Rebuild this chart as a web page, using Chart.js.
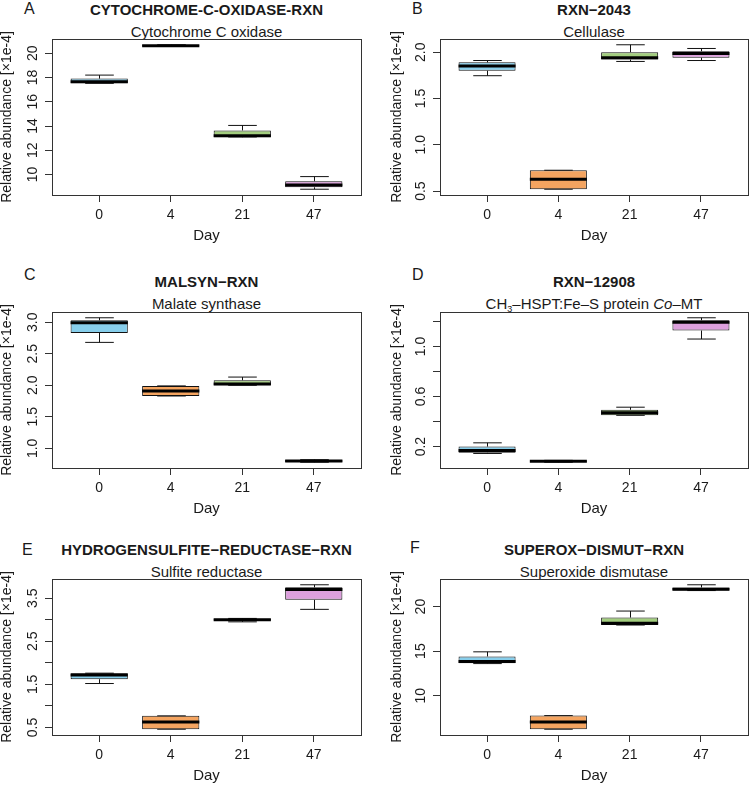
<!DOCTYPE html>
<html>
<head>
<meta charset="utf-8">
<script src="https://cdn.jsdelivr.net/npm/chart.js@4.4.1/dist/chart.umd.min.js"></script>
<style>
body { margin: 0; background: #fff; font-family: 'Liberation Sans', Arial, sans-serif; color: #1a1a1a; }
#wrap { position: relative; width: 750px; height: 785px; overflow: hidden; }
.letter { position: absolute; font-size: 16px; line-height: 18px; }
.title { position: absolute; font-weight: bold; font-size: 15px; line-height: 18px; text-align: center; white-space: nowrap; }
.sub { position: absolute; font-size: 15px; line-height: 18px; text-align: center; white-space: nowrap; }
.sub sub { font-size: 9px; vertical-align: -3px; line-height: 0; }
canvas { position: absolute; }
</style>
</head>
<body>
<div id="wrap"></div>
<script>
const days = ['0', '4', '21', '47'];
const boxColors = ['#87ceeb', '#f4a460', '#a2cd7e', '#dda0dd'];
const yTitle = 'Relative abundance [×1e-4]';

// A - Cytochrome C oxidase
const aMin = [17.52, 20.58, 13.10, 8.79];
const aQ1 = [17.52, 20.60, 13.08, 8.95];
const aMed = [17.66, 20.63, 13.20, 9.13];
const aQ3 = [17.91, 20.66, 13.64, 9.45];
const aMax = [18.20, 20.70, 14.05, 9.83];
const aTicks = [10, 12, 14, 16, 18, 20];
const aLabels = ['10', '12', '14', '16', '18', '20'];

// B - Cellulase
const bMin = [1.746, 0.52, 1.90, 1.91];
const bQ1 = [1.80, 0.52, 1.92, 1.94];
const bMed = [1.85, 0.628, 1.94, 1.985];
const bQ3 = [1.89, 0.725, 2.00, 2.01];
const bMax = [1.91, 0.725, 2.08, 2.04];
const bTicks = [0.5, 1.0, 1.5, 2.0];
const bLabels = ['0.5', '1.0', '1.5', '2.0'];

// C - Malate synthase
const cMin = [2.68, 1.83, 2.00, 0.78];
const cQ1 = [2.83, 1.83, 2.00, 0.785];
const cMed = [2.99, 1.91, 2.02, 0.80];
const cQ3 = [3.03, 1.99, 2.08, 0.815];
const cMax = [3.07, 1.99, 2.13, 0.82];
const cTicks = [1.0, 1.5, 2.0, 2.5, 3.0];
const cLabels = ['1.0', '1.5', '2.0', '2.5', '3.0'];

// D - CH3-HSPT:Fe-S protein Co-MT
const dMin = [0.145, 0.075, 0.45, 1.06];
const dQ1 = [0.15, 0.078, 0.45, 1.128];
const dMed = [0.168, 0.082, 0.47, 1.195];
const dQ3 = [0.20, 0.086, 0.494, 1.21];
const dMax = [0.23, 0.09, 0.515, 1.23];
const dTicks = [0.2, 0.4, 0.6, 0.8, 1.0, 1.2];
const dLabels = ['0.2', '', '0.6', '', '1.0', ''];

// E - Sulfite reductase
const eMin = [1.52, 0.46, 2.95, 3.24];
const eQ1 = [1.62, 0.46, 2.98, 3.46];
const eMed = [1.72, 0.63, 3.00, 3.70];
const eQ3 = [1.76, 0.77, 3.02, 3.75];
const eMax = [1.76, 0.77, 3.03, 3.81];
const eTicks = [0.5, 1.0, 1.5, 2.0, 2.5, 3.0, 3.5];
const eLabels = ['0.5', '', '1.5', '', '2.5', '', '3.5'];

// F - Superoxide dismutase
const fMin = [13.60, 6.23, 17.93, 21.80];
const fQ1 = [13.65, 6.23, 17.93, 21.82];
const fMed = [13.83, 7.05, 18.13, 21.95];
const fQ3 = [14.40, 7.76, 18.77, 22.15];
const fMax = [14.92, 7.76, 19.50, 22.45];
const fTicks = [10, 15, 20];
const fLabels = ['10', '15', '20'];

Chart.defaults.font.family = "'Liberation Sans', Arial, sans-serif";
Chart.defaults.color = '#1a1a1a';

const panels = [
  { letter: 'A', title: 'CYTOCHROME-C-OXIDASE-RXN', sub: 'Cytochrome C oxidase',
    min: aMin, q1: aQ1, med: aMed, q3: aQ3, max: aMax, ticks: aTicks, labels: aLabels,
    canvas: [0, 0, 375, 258], plot: [52, 39, 361, 195], padLeft: 0, letterPos: [24, 0], titleY: 1 },
  { letter: 'B', title: 'RXN−2043', sub: 'Cellulase',
    min: bMin, q1: bQ1, med: bMed, q3: bQ3, max: bMax, ticks: bTicks, labels: bLabels,
    canvas: [375, 0, 375, 258], plot: [440, 39, 748, 195], padLeft: 15, letterPos: [412, 0], titleY: 1 },
  { letter: 'C', title: 'MALSYN−RXN', sub: 'Malate synthase',
    min: cMin, q1: cQ1, med: cMed, q3: cQ3, max: cMax, ticks: cTicks, labels: cLabels,
    canvas: [0, 258, 375, 262], plot: [52, 312, 361, 468], padLeft: 0, letterPos: [24, 266], titleY: 273 },
  { letter: 'D', title: 'RXN−12908', sub: 'CH<sub>3</sub>–HSPT:Fe–S protein <i>Co</i>–MT',
    min: dMin, q1: dQ1, med: dMed, q3: dQ3, max: dMax, ticks: dTicks, labels: dLabels,
    canvas: [375, 258, 375, 262], plot: [440, 312, 748, 468], padLeft: 15, letterPos: [412, 266], titleY: 273 },
  { letter: 'E', title: 'HYDROGENSULFITE−REDUCTASE−RXN', sub: 'Sulfite reductase',
    min: eMin, q1: eQ1, med: eMed, q3: eQ3, max: eMax, ticks: eTicks, labels: eLabels,
    canvas: [0, 520, 375, 265], plot: [52, 579, 361, 735], padLeft: 0, letterPos: [22, 541], titleY: 541 },
  { letter: 'F', title: 'SUPEROX−DISMUT−RXN', sub: 'Superoxide dismutase',
    min: fMin, q1: fQ1, med: fMed, q3: fQ3, max: fMax, ticks: fTicks, labels: fLabels,
    canvas: [375, 520, 375, 265], plot: [440, 579, 748, 735], padLeft: 15, letterPos: [410, 539], titleY: 541 }
];

const wrap = document.getElementById('wrap');

function addDiv(cls, html, left, top, width) {
  const d = document.createElement('div');
  d.className = cls;
  d.innerHTML = html;
  d.style.left = left + 'px';
  d.style.top = top + 'px';
  if (width) d.style.width = width + 'px';
  wrap.appendChild(d);
}

function boxExtras(p) {
  function line(ctx, x1, y1, x2, y2) {
    ctx.beginPath();
    ctx.moveTo(x1, y1);
    ctx.lineTo(x2, y2);
    ctx.stroke();
  }
  return {
    id: 'boxExtras',
    beforeDatasetsDraw(chart) {
      // whiskers go under the boxes, like R draws them
      const { ctx, scales: { x, y } } = chart;
      const bars = chart.getDatasetMeta(0).data;
      ctx.save();
      ctx.strokeStyle = '#111';
      ctx.lineWidth = 1;
      p.med.forEach((m, i) => {
        const cx = Math.round(x.getPixelForValue(i + 1)) + 0.5;
        const cap = bars[i].width / 4;
        const yHi = y.getPixelForValue(p.max[i]);
        const yLo = y.getPixelForValue(p.min[i]);
        line(ctx, cx, y.getPixelForValue(p.q3[i]), cx, yHi);
        line(ctx, cx - cap, yHi, cx + cap, yHi);
        line(ctx, cx, y.getPixelForValue(p.q1[i]), cx, yLo);
        line(ctx, cx - cap, yLo, cx + cap, yLo);
      });
      ctx.restore();
    },
    afterDatasetsDraw(chart) {
      const { ctx, chartArea: a, scales: { x, y } } = chart;
      const bars = chart.getDatasetMeta(0).data;
      ctx.save();
      ctx.strokeStyle = '#000';
      ctx.lineWidth = 3;
      p.med.forEach((m, i) => {
        const cx = x.getPixelForValue(i + 1);
        const hw = bars[i].width / 2;
        const ym = y.getPixelForValue(m);
        line(ctx, cx - hw, ym, cx + hw, ym);
      });
      // plot frame
      ctx.strokeStyle = '#333';
      ctx.lineWidth = 1;
      ctx.strokeRect(Math.round(a.left) + 0.5, Math.round(a.top) + 0.5, Math.round(a.width), Math.round(a.height));
      // y tick labels, rotated parallel to the axis
      ctx.fillStyle = '#1a1a1a';
      ctx.font = "14px 'Liberation Sans', Arial, sans-serif";
      ctx.textAlign = 'center';
      ctx.textBaseline = 'middle';
      p.ticks.forEach((v, i) => {
        if (!p.labels[i]) return;
        ctx.save();
        ctx.translate(a.left - 19, y.getPixelForValue(v));
        ctx.rotate(-Math.PI / 2);
        ctx.fillText(p.labels[i], 0, 0);
        ctx.restore();
      });
      ctx.restore();
    }
  };
}

panels.forEach(p => {
  const [cl, ct, cw, chh] = p.canvas;
  const [pl, pt, pr, pb] = p.plot;

  addDiv('letter', p.letter, p.letterPos[0], p.letterPos[1]);
  addDiv('title', p.title, pl, p.titleY, pr - pl);
  addDiv('sub', p.sub, pl, p.titleY + 22, pr - pl);

  const canvas = document.createElement('canvas');
  canvas.width = cw;
  canvas.height = chh;
  canvas.style.left = cl + 'px';
  canvas.style.top = ct + 'px';
  canvas.style.width = cw + 'px';
  canvas.style.height = chh + 'px';
  wrap.appendChild(canvas);

  const xHeight = 50;
  const yWidth = pl - cl - p.padLeft;
  const all = p.min.concat(p.max);
  const lo = Math.min(...all);
  const hi = Math.max(...all);
  const ext = (hi - lo) * 0.04;

  new Chart(canvas, {
    type: 'bar',
    data: {
      datasets: [{
        data: p.q1.map((v, i) => ({ x: i + 1, y: [v, p.q3[i]] })),
        backgroundColor: boxColors,
        borderColor: '#111',
        borderWidth: 1,
        borderSkipped: false,
        categoryPercentage: 1,
        barPercentage: 0.8
      }]
    },
    options: {
      responsive: false,
      animation: false,
      layout: {
        padding: {
          left: p.padLeft,
          top: pt - ct,
          right: cl + cw - pr,
          bottom: ct + chh - pb - xHeight
        }
      },
      plugins: {
        legend: { display: false },
        tooltip: { enabled: false }
      },
      scales: {
        x: {
          type: 'linear',
          min: 0.34,
          max: 4.66,
          offset: false,
          afterBuildTicks: s => { s.ticks = days.map((d, i) => ({ value: i + 1 })); },
          afterFit: s => { s.height = xHeight; },
          ticks: {
            callback: v => days[v - 1],
            font: { size: 14 },
            padding: 5,
            maxRotation: 0,
            autoSkip: false
          },
          grid: { offset: false, drawOnChartArea: false, drawTicks: true, tickLength: 7, color: '#333', tickColor: '#333' },
          border: { display: false },
          title: { display: true, text: 'Day', font: { size: 15, lineHeight: 1.2 }, padding: 0 }
        },
        y: {
          min: lo - ext,
          max: hi + ext,
          afterBuildTicks: s => { s.ticks = p.ticks.map(v => ({ value: v })); },
          afterFit: s => { s.width = yWidth; },
          ticks: { display: false },
          grid: { drawOnChartArea: false, drawTicks: true, tickLength: 7, color: '#333', tickColor: '#333' },
          border: { display: false },
          title: { display: true, text: yTitle, font: { size: 14, lineHeight: 1 }, padding: 0 }
        }
      }
    },
    plugins: [boxExtras(p)]
  });
});
</script>
</body>
</html>
